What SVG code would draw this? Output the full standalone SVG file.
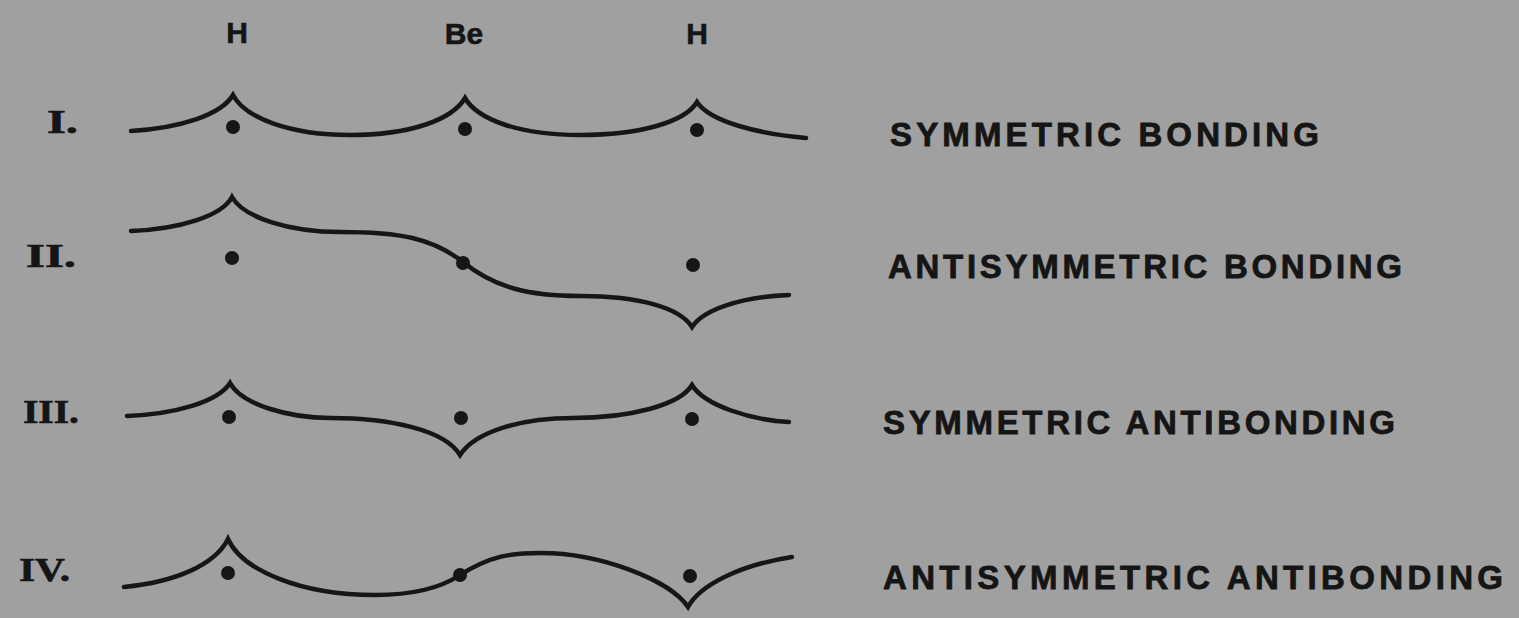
<svg xmlns="http://www.w3.org/2000/svg" width="1519" height="618" viewBox="0 0 1519 618">
<style>
.wave{fill:none;stroke:#161616;stroke-width:4.5;stroke-linecap:round;stroke-linejoin:miter}
.dot{fill:#161616}
.lbl{font-family:"Liberation Sans",Arial,sans-serif;font-weight:bold;fill:#151515;stroke:#151515;stroke-width:0.8;font-size:33px}
.atom{font-family:"Liberation Sans",Arial,sans-serif;font-weight:bold;fill:#151515;stroke:#151515;stroke-width:0.6;font-size:30px;text-anchor:middle}
.num{font-family:"Liberation Serif","Times New Roman",serif;font-weight:bold;fill:#151515;stroke:#151515;stroke-width:0.6;font-size:34px}
</style>
<rect x="0" y="0" width="1519" height="618" fill="#a0a0a0"/>
<g id="atoms">
<text class="atom" x="237" y="43">H</text>
<text class="atom" x="464" y="44">Be</text>
<text class="atom" x="697" y="44">H</text>
</g>
<g id="row1">
<text class="num" x="47" y="133" textLength="31" lengthAdjust="spacingAndGlyphs">I.</text>
<path class="wave" d="M131,131 C180,128 221,115 233,95 C245,118 290,135 350,135 C410,135 452,120 465,98 C478,120 520,135 580,135 C640,135 685,122 697,102 C710,122 760,134 806,138"/>
<circle class="dot" cx="233" cy="127" r="7"/>
<circle class="dot" cx="465" cy="129" r="7"/>
<circle class="dot" cx="697" cy="130" r="7"/>
<text class="lbl" x="890" y="146" textLength="429" lengthAdjust="spacing">SYMMETRIC BONDING</text>
</g>
<g id="row2">
<text class="num" x="26" y="267" textLength="50" lengthAdjust="spacingAndGlyphs">II.</text>
<path class="wave" d="M131,231 C180,229 222,216 232,197 C244,218 290,232 340,232 C400,232 432,238 463,262 C495,288 530,296 580,296 C640,296 680,308 692,327 C703,310 740,297 789,295"/>
<circle class="dot" cx="232" cy="258" r="7"/>
<circle class="dot" cx="463" cy="263" r="7"/>
<circle class="dot" cx="693" cy="265" r="7"/>
<text class="lbl" x="888" y="278" textLength="514" lengthAdjust="spacing">ANTISYMMETRIC BONDING</text>
</g>
<g id="row3">
<text class="num" x="23" y="423" textLength="56" lengthAdjust="spacingAndGlyphs">III.</text>
<path class="wave" d="M127,416 C175,414 218,402 230,383 C242,405 290,418 330,418 C390,418 445,430 460,455 C475,432 520,418 573,418 C630,418 680,405 692,385 C704,405 750,420 789,422"/>
<circle class="dot" cx="229" cy="417" r="7"/>
<circle class="dot" cx="461" cy="418" r="7"/>
<circle class="dot" cx="692" cy="419" r="7"/>
<text class="lbl" x="883" y="434" textLength="512" lengthAdjust="spacing">SYMMETRIC ANTIBONDING</text>
</g>
<g id="row4">
<text class="num" x="19" y="581" textLength="51" lengthAdjust="spacingAndGlyphs">IV.</text>
<path class="wave" d="M124,587 C175,582 215,565 228,539 C242,570 300,595 375,595 C420,595 445,585 460,575 C490,556 510,553 541,553 C600,553 670,580 688,607 C700,585 740,565 792,557"/>
<circle class="dot" cx="228" cy="573" r="7"/>
<circle class="dot" cx="460" cy="575" r="7"/>
<circle class="dot" cx="690" cy="576" r="7"/>
<text class="lbl" x="883" y="589" textLength="620" lengthAdjust="spacing">ANTISYMMETRIC ANTIBONDING</text>
</g>
</svg>
